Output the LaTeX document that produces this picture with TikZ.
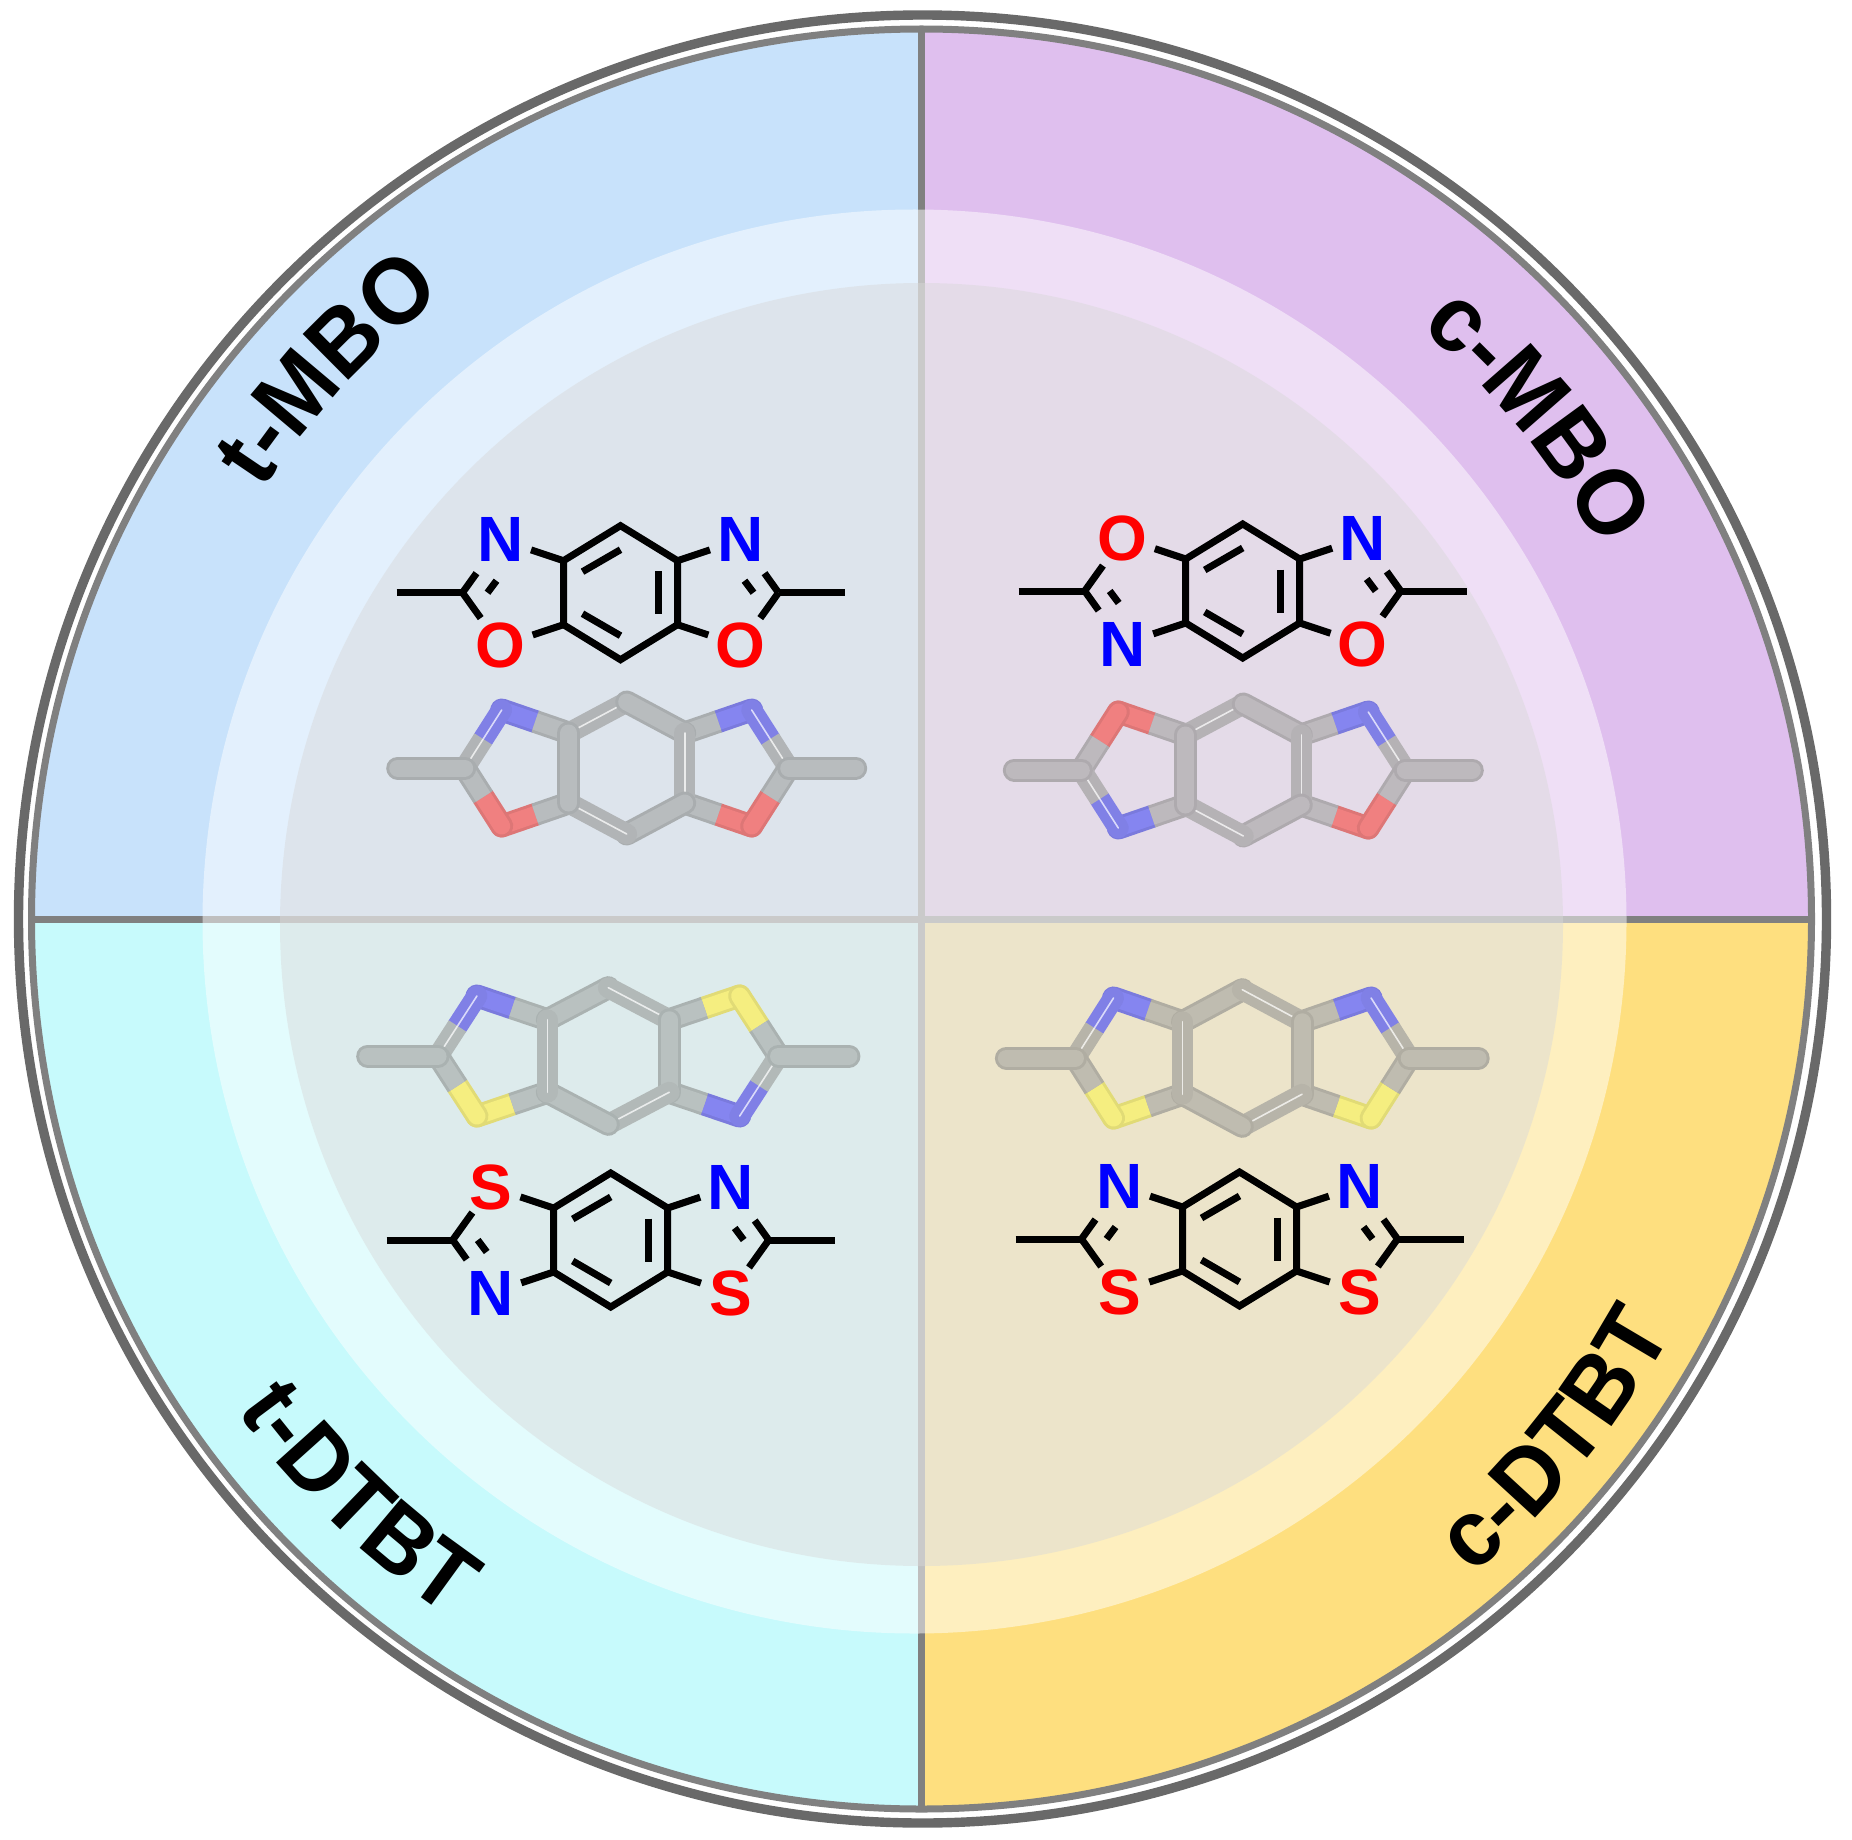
\documentclass[tikz,border=0pt]{standalone}
\usepackage{fontspec}
\setmainfont{Liberation Sans}
\newfontfamily\titleface{Liberation Sans}[FakeStretch=0.95]
\newcommand{\titlefont}{\titleface\bfseries\fontsize{47}{47}\selectfont}
\usetikzlibrary{calc,decorations.text}
\definecolor{quadTL}{HTML}{C8E2FB}
\definecolor{quadTR}{HTML}{DFBFEE}
\definecolor{quadBL}{HTML}{C7FAFC}
\definecolor{quadBR}{HTML}{FEDF7F}
\definecolor{greyTL}{HTML}{B8BCBE}
\definecolor{greyTR}{HTML}{BDB9BD}
\definecolor{greyBL}{HTML}{B9C1C0}
\definecolor{greyBR}{HTML}{BFBCB0}
\definecolor{stickN}{HTML}{8585F0}
\definecolor{stickO}{HTML}{F08080}
\definecolor{stickS}{HTML}{F5EE80}
\tikzset{
  bond/.style={draw=black,line width=3.5pt},
  atom/.style={circle,inner sep=0pt,minimum size=29pt,font=\bfseries\fontsize{32}{32}\selectfont},
  atomN/.style={text={rgb,1:red,0;green,0;blue,1}},
  atomO/.style={text=red},
  atomS/.style={text=red},
  % the C=N bond ends further from its label and carries the short inner stroke
  bondN/.style={shorten >=4.5pt},
  bondO/.style={},
  bondS/.style={},
  strokeN/.style={},
  strokeO/.style={draw=none},
  strokeS/.style={draw=none},
  thickbond/.style={line cap=round,line width=11.5pt,draw=#1!92!black,
    postaction={draw=#1,line width=8.5pt}},
  thinbond/.style={line cap=round,line width=4.8pt,draw=#1!96!black,
    double=white!70!#1,double distance=0.8pt},
  hetN/.style={thinbond=#1},
  hetO/.style={thickbond=#1},
  hetS/.style={thickbond=#1},
  kekMBO/.style={bondp/.style={thinbond=##1},bondq/.style={thickbond=##1}},
  kekDTBT/.style={xscale=1.03,yscale=1.035,bondp/.style={thickbond=##1},bondq/.style={thinbond=##1}},
  % the four names follow the rim, so they run along arcs round the disc
  arctitle/.style={decorate,decoration={text along path,text align=center,text={|\titlefont|#1}}},
}
% flat formula: name, centre, then the labels upper left, lower left, upper right, lower right
\newcommand{\flatmol}[6]{
  \begin{scope}[shift={(#2)}]
    \foreach \nm/\lab/\sx/\sy in {ul/#3/-1/-1,ll/#4/-1/1,ur/#5/1/-1,lr/#6/1/1} {
      \node[atom,atom\lab] (#1\nm) at (120*\sx,53*\sy) {\lab};
      \coordinate (#1\nm r) at (57*\sx,32*\sy);
      \coordinate (#1\nm c) at (158*\sx,0);
      \draw[bond] (#1\nm r) -- (#1\nm);
      \draw[bond,bond\lab] (#1\nm c) -- (#1\nm);
      \draw[bond,stroke\lab] (133*\sx,0) -- (124*\sx,12*\sy);
    }
    \coordinate (#1top) at (0,-67);
    \coordinate (#1bot) at (0,67);
    \coordinate (#1mel) at (-224,0);
    \coordinate (#1mer) at (224,0);
    \draw[bond] (#1top) -- (#1urr) -- (#1lrr) -- (#1bot) -- (#1llr) -- (#1ulr) -- cycle;
    \draw[bond] (#1mel) -- (#1ulc);
    \draw[bond] (#1mer) -- (#1urc);
    \draw[bond] (-38,-21) -- (0,-43);
    \draw[bond] (-38,21) -- (0,43);
    \draw[bond] (37.5,-21.5) -- (37.5,21.5);
  \end{scope}
}
% stick model: name, centre, kekule style, the four labels, grey of the quadrant
\newcommand{\stickmol}[8]{
  \colorlet{molgrey}{#8}
  \begin{scope}[shift={(#2)},#3]
    \foreach \nm/\lab/\sx/\sy in {ul/#4/-1/-1,ll/#5/-1/1,ur/#6/1/-1,lr/#7/1/1} {
      \coordinate (#1\nm) at (125*\sx,58*\sy);
      \coordinate (#1\nm r) at (58*\sx,35*\sy);
      \coordinate (#1\nm c) at (162*\sx,0);
      \draw[thickbond=stick\lab] (#1\nm) -- ($(#1\nm)!.5!(#1\nm r)$);
      \draw[thickbond=molgrey,line cap=butt] ($(#1\nm)!.5!(#1\nm r)$) -- (#1\nm r);
      \draw[het\lab=stick\lab] (#1\nm) -- ($(#1\nm)!.5!(#1\nm c)$);
      \draw[het\lab=molgrey,line cap=butt] ($(#1\nm)!.5!(#1\nm c)$) -- (#1\nm c);
    }
    \coordinate (#1top) at (0,-66);
    \coordinate (#1bot) at (0,66);
    \coordinate (#1mel) at (-229,0);
    \coordinate (#1mer) at (229,0);
    \draw[bondp=molgrey] (#1ulr) -- (#1top);
    \draw[bondq=molgrey] (#1top) -- (#1urr);
    \draw[bondp=molgrey] (#1urr) -- (#1lrr);
    \draw[bondq=molgrey] (#1lrr) -- (#1bot);
    \draw[bondp=molgrey] (#1bot) -- (#1llr);
    \draw[bondq=molgrey] (#1llr) -- (#1ulr);
    \draw[thickbond=molgrey] (#1mel) -- (#1ulc);
    \draw[thickbond=molgrey] (#1mer) -- (#1urc);
  \end{scope}
}
\begin{document}
\begin{tikzpicture}[x=0.5pt,y=-0.5pt]
  \useasboundingbox (0,0) rectangle (1852,1840);
  \coordinate (mid) at (921.5,919);

  % quadrants
  \begin{scope}
    \clip (mid) circle (890);
    \fill[quadTL] (0,0) rectangle (mid);
    \fill[quadTR] (1852,0) rectangle (mid);
    \fill[quadBL] (0,1840) rectangle (mid);
    \fill[quadBR] (1852,1840) rectangle (mid);
    \fill[gray] (918,0) rectangle (925,1840);
    \fill[gray] (0,915.5) rectangle (1852,922.5);
  \end{scope}

  % pale bands
  \fill[white,opacity=0.5] (914.5,921.5) circle (712);
  \fill[fill={rgb,255:red,216;green,216;blue,216},opacity=0.46] (921.5,924.5) circle (641.5);

  % rims
  \draw[line width=3.5pt,draw=gray] (mid) circle (890);
  \draw[line width=4.7pt,draw={rgb,255:red,105;green,105;blue,105}] (922.5,919) circle (904);

  \flatmol{ta}{620.5,592.7}{N}{O}{N}{O}
  \flatmol{ca}{1242.7,591}{O}{N}{N}{O}
  \flatmol{tb}{610.7,1240}{S}{N}{N}{S}
  \flatmol{cb}{1239.5,1239}{N}{S}{N}{S}

  \stickmol{sa}{626.7,768}{kekMBO}{N}{O}{N}{O}{greyTL}
  \stickmol{sb}{1243.3,770}{kekMBO}{O}{N}{N}{O}{greyTR}
  \stickmol{sc}{608.3,1056}{kekDTBT,xscale=1.02}{N}{S}{S}{N}{greyBL}
  \stickmol{sd}{1242.3,1058}{kekDTBT}{N}{S}{N}{S}{greyBR}

  \path[arctitle={t-MBO}] (mid) ++(192.8:786) arc[start angle=192.8,end angle=252.8,radius=786];
  \path[arctitle={c-MBO}] (mid) ++(290.8:773) arc[start angle=290.8,end angle=350.8,radius=773];
  \path[arctitle={t-DTBT}] (mid) ++(164.2:843) arc[start angle=164.2,end angle=104.2,radius=843];
  \path[arctitle={c-DTBT}] (mid) ++(69.4:857) arc[start angle=69.4,end angle=9.4,radius=857];
\end{tikzpicture}
\end{document}
